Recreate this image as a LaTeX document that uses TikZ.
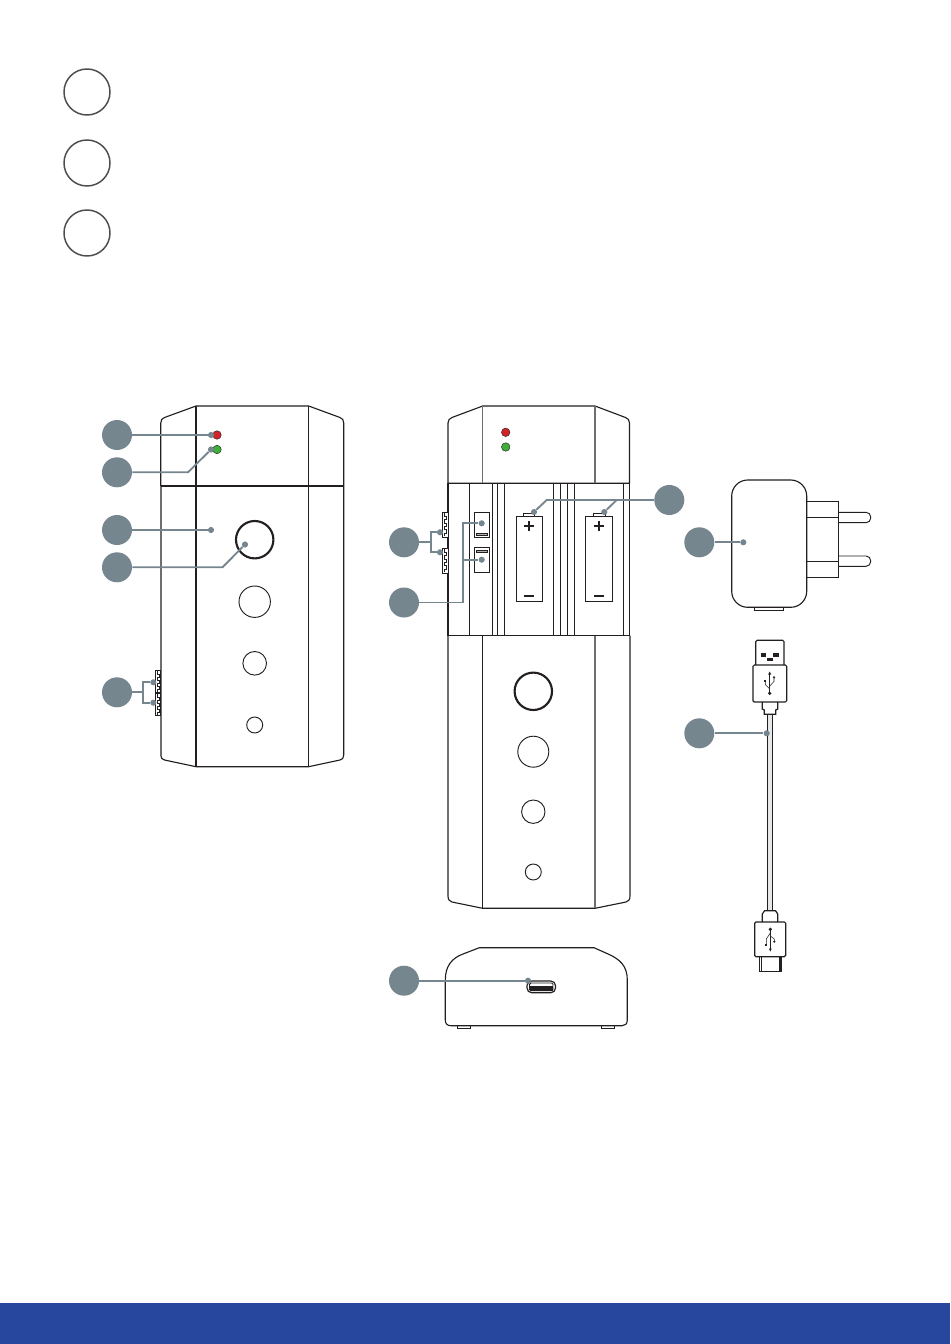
\documentclass[tikz,border=0pt]{standalone}
\usepackage{tikz}
\usetikzlibrary{shapes.misc}

\definecolor{badgegrey}{HTML}{75868F}
\definecolor{bodyline}{HTML}{231F20}
\definecolor{ledred}{HTML}{D2232A}
\definecolor{ledgreen}{HTML}{3FAE3A}
\definecolor{barblue}{HTML}{27479E}
\definecolor{cableface}{HTML}{E6E7E8}

\tikzset{
  badge/.style={circle,fill=badgegrey,inner sep=0pt,minimum size=22.5pt},
  keybadge/.style={circle,draw=bodyline!80,line width=1.1pt,fill=white,inner sep=0pt,minimum size=34.5pt},
  leaddot/.style={circle,fill=badgegrey,inner sep=0pt,minimum size=4.6pt},
  leader/.style={draw=badgegrey,line width=1.4pt},
  led/.style={circle,draw=bodyline,line width=0.3pt,inner sep=0pt,minimum size=6.4pt},
  body/.style={draw=bodyline,line width=0.85pt,line join=round},
  greyedge/.style={draw=bodyline!65,line width=1.15pt},
  thin/.style={draw=bodyline,line width=0.7pt},
  ridge/.pic={
    \draw[thin,line width=0.55pt,fill=white] (0,0) rectangle (5,22.5);
    \draw[thin,line width=0.55pt] (1.8,1) -- (1.8,4) -- (3.4,4) -- (3.4,7) -- (1.8,7) -- (1.8,10) -- (3.4,10) -- (3.4,13) -- (1.8,13) -- (1.8,16) -- (3.4,16) -- (3.4,19) -- (1.8,19) -- (1.8,21.5);
  }
}

\begin{document}
\begin{tikzpicture}[x=0.75pt,y=0.75pt,yscale=-1,xscale=1]
  \useasboundingbox (0,0) rectangle (950,1344);

  %Bottom bar
  \fill[barblue] (0,1303) rectangle (950,1344);

  %Key circles
  \node[keybadge] (keyA) at (87,92) {};
  \node[keybadge] (keyB) at (87,163) {};
  \node[keybadge] (keyC) at (87,233) {};

  %Left unit, outline
  \draw[body] (196,406) -- (308.7,406) -- (340,417.5) .. controls (342.5,418.5) and (343.7,420) .. (343.7,423) -- (343.7,755) .. controls (343.7,758) and (342.5,759.5) .. (340,760) -- (308.7,766.7) -- (196,766.7) -- (164.5,760) .. controls (162,759.5) and (160.8,758) .. (160.8,755) -- (160.8,423) .. controls (160.8,420) and (162,418.5) .. (164.5,417.5) -- cycle;
  \draw[body] (196,406) -- (196,766.7);
  \draw[body] (308.7,406) -- (308.7,766.7);
  \draw[greyedge] (160.8,485.7) -- (160.8,755);
  \draw[body,line width=1.2pt] (160.8,485.7) -- (343.7,485.7);
  %Left unit, buttons
  \draw[bodyline,line width=1.6pt] (254.7,539.7) circle (18.7);
  \draw[thin] (254.7,601.7) circle (15.7);
  \draw[thin] (254.7,663.3) circle (11.8);
  \draw[thin] (254.7,725) circle (8);
  %Left unit, side clips
  \pic[yscale=-1] at (155.8,670) {ridge};
  \pic[yscale=-1] at (155.8,693) {ridge};
  %Left unit, lamps
  \node[led,fill=ledred] (lampRedL) at (217,435) {};
  \node[led,fill=ledgreen] (lampGreenL) at (217,449.5) {};

  %Middle unit, outline
  \draw[body] (482.7,406) -- (595,406) -- (625.5,417.5) .. controls (628,418.5) and (629.5,420) .. (629.5,423) -- (629.5,483.3) -- (448,483.3) -- (448,423) .. controls (448,420) and (449.5,418.5) .. (452,417.5) -- cycle;
  \draw[greyedge] (482.7,406) -- (482.7,483.3);
  \draw[greyedge] (595,406) -- (595,483.3);
  \draw[body] (448,483.3) -- (448,635.7);
  \draw[body] (629.5,483.3) -- (629.5,635.7);
  \draw[thin] (469.3,483.3) -- (469.3,635.7);
  \draw[thin] (492.7,483.3) -- (492.7,635.7);
  \draw[thin] (497.3,483.3) -- (497.3,635.7);
  \draw[thin] (504.3,483.3) -- (504.3,635.7);
  \draw[thin] (553.3,483.3) -- (553.3,635.7);
  \draw[thin] (560.3,483.3) -- (560.3,635.7);
  \draw[thin] (567.3,483.3) -- (567.3,635.7);
  \draw[thin] (574.3,483.3) -- (574.3,635.7);
  \draw[thin] (623.3,483.3) -- (623.3,635.7);
  \draw[body] (448,635.7) -- (630,635.7);
  \draw[body] (448,635.7) -- (448,896) .. controls (448,899.5) and (449.5,901.5) .. (452,902) -- (482.7,908.3) -- (595,908.3) -- (626,902) .. controls (628.5,901.5) and (630,899.5) .. (630,896) -- (630,635.7);
  \draw[body] (482.7,635.7) -- (482.7,908.3);
  \draw[greyedge] (595,635.7) -- (595,908.3);
  %Middle unit, buttons
  \draw[bodyline,line width=1.6pt] (533.3,691.3) circle (18.7);
  \draw[thin] (533.3,751.7) circle (15.5);
  \draw[thin] (533.3,811.7) circle (11.7);
  \draw[thin] (533.3,872) circle (8);
  %Middle unit, side clips
  \pic[xscale=1.15,yscale=-1.11] at (442.2,512) {ridge};
  \pic[xscale=1.15,yscale=-1.11] at (442.2,548) {ridge};
  %Middle unit, lamps
  \node[led,fill=ledred] (lampRedM) at (505.7,432.3) {};
  \node[led,fill=ledgreen] (lampGreenM) at (505.7,447) {};
  %Middle unit, switches
  \draw[thin] (474.3,512.3) rectangle (489.7,537.7);
  \draw[thin] (474.3,547) rectangle (489.7,572.7);
  \draw[bodyline,line width=0.4pt,fill=bodyline!35] (476.3,533) rectangle (487.7,535.2);
  \draw[bodyline,line width=0.4pt,fill=bodyline!35] (476.3,550) rectangle (487.7,552.2);
  %Middle unit, cells
  \draw[thin] (516.3,516.3) rectangle (542.7,601.7);
  \draw[thin,fill=white] (523.3,513) rectangle (534.7,516.3);
  \draw[thin] (585.3,516.3) rectangle (612.7,601.7);
  \draw[thin,fill=white] (593.3,513) rectangle (605,516.3);
  \draw[bodyline,line width=1.5pt] (524,526.3) -- (534,526.3) (529,521.3) -- (529,531.3);
  \draw[bodyline,line width=1.5pt] (524,596) -- (534,596);
  \draw[bodyline,line width=1.5pt] (594,526.3) -- (604,526.3) (599,521.3) -- (599,531.3);
  \draw[bodyline,line width=1.5pt] (594,596) -- (604,596);

  %Base unit
  \draw[body] (479.3,947.7) -- (594,947.7) -- (607,953.5) .. controls (620,959) and (627.3,966) .. (627.3,980) -- (627.3,1020) .. controls (627.3,1024) and (625,1025.7) .. (622,1025.7) -- (451,1025.7) .. controls (447.5,1025.7) and (445.3,1024) .. (445.3,1020) -- (445.3,980) .. controls (445.3,966) and (452,958) .. (463,954) -- cycle;
  \draw[thin] (457.3,1025.7) -- (457.3,1028) -- (470.7,1028) -- (470.7,1025.7);
  \draw[thin] (601.3,1025.7) -- (601.3,1028) -- (614.7,1028) -- (614.7,1025.7);
  \draw[thin,rounded corners=3.5pt,line width=0.9pt] (527,981) rectangle (555.5,992.7);
  \draw[thin,rounded corners=1pt] (529.5,983) rectangle (553,990.7);
  \fill[bodyline] (530,986) rectangle (552.5,990.5);

  %Charger
  \draw[thin] (806.7,501.3) -- (838.7,501.3) -- (838.7,577.7) -- (806.7,577.7);
  \draw[thin] (806.7,517.3) -- (838.7,517.3);
  \draw[thin] (806.7,561) -- (838.7,561);
  \draw[thin,rounded corners=3.5pt] (838.7,512.3) -- (870.7,512.3) -- (870.7,522.7) -- (838.7,522.7);
  \draw[thin,rounded corners=3.5pt] (838.7,556) -- (870.7,556) -- (870.7,566.3) -- (838.7,566.3);
  \draw[thin] (754.3,607.3) rectangle (783.7,610.3);
  \draw[body,rounded corners=12pt,fill=white] (731.7,480) rectangle (806.7,607.3);

  %Cable
  \draw[thin,fill=cableface] (767.3,714.3) rectangle (772.7,910.7);
  %Cable, large plug
  \draw[thin,line width=0.9pt,rounded corners=1pt] (755.7,665) -- (755.7,640.3) -- (784,640.3) -- (784,665);
  \fill[bodyline] (761,653) rectangle (766.3,657);
  \fill[bodyline] (773,653) rectangle (779,657);
  \fill[bodyline] (767,658) rectangle (773,660.7);
  \draw[thin,line width=0.9pt,rounded corners=1pt] (753,665) rectangle (786.7,702);
  \draw[thin,line width=0.9pt] (762.3,702) -- (762.3,709) -- (764.3,710) -- (764.3,714.3) -- (775.7,714.3) -- (775.7,710) -- (777.7,709) -- (777.7,702);
  %Cable, large plug mark
  \draw[bodyline,line width=0.4pt] (769.7,673) -- (769.7,693);
  \draw[bodyline,line width=0.4pt] (769.7,689) -- (765.3,684.5) -- (765.3,681);
  \draw[bodyline,line width=0.4pt] (769.7,686) -- (774,681.5) -- (774,678);
  \fill[bodyline] (769.7,693.3) circle (1.8);
  \fill[bodyline] (769.7,671.5) -- (768.2,674.5) -- (771.2,674.5) -- cycle;
  \fill[bodyline] (764.3,679.7) rectangle (766.3,681.7);
  \fill[bodyline] (774,677.3) circle (1.2);
  %Cable, small plug
  \draw[thin,line width=0.9pt] (762.3,922) -- (762.3,914) -- (764.5,910.7) -- (775.5,910.7) -- (777.7,914) -- (777.7,922);
  \draw[thin,line width=0.9pt,rounded corners=1pt] (754.7,922) rectangle (785.7,956.7);
  \draw[thin,line width=0.9pt] (759.7,956.7) -- (759.7,971.7) -- (781,971.7) -- (781,956.7);
  \draw[thin] (761.7,956.7) -- (761.7,971) (779,956.7) -- (779,971);
  \draw[bodyline,line width=1.4pt] (759.7,971.5) -- (781,971.5);
  %Cable, small plug mark
  \draw[bodyline,line width=0.4pt] (770.3,929.3) -- (770.3,950);
  \draw[bodyline,line width=0.4pt] (770.3,933) -- (766.3,939) -- (766.3,944);
  \draw[bodyline,line width=0.4pt] (770.3,936) -- (774.3,939) -- (774.3,941);
  \fill[bodyline] (770.3,929.3) circle (1.8);
  \fill[bodyline] (770.3,951.5) -- (768.8,948.5) -- (771.8,948.5) -- cycle;
  \fill[bodyline] (765.3,944) rectangle (767.3,946);
  \fill[bodyline] (774.3,941.7) circle (1.2);

  %Callouts, left unit
  \node[badge] (badgeRed) at (117,435) {};
  \node[leaddot] (dotRed) at (211,435) {};
  \draw[leader] (badgeRed) -- (dotRed);

  \node[badge] (badgeGreen) at (117,472.3) {};
  \node[leaddot] (dotGreen) at (211,449.5) {};
  \coordinate (bendGreen) at (188,472.3);
  \draw[leader] (badgeGreen) -- (bendGreen) -- (dotGreen);

  \node[badge] (badgeFace) at (117,530) {};
  \node[leaddot] (dotFace) at (211,530) {};
  \draw[leader] (badgeFace) -- (dotFace);

  \node[badge] (badgeButton) at (117,567.3) {};
  \node[leaddot] (dotButton) at (245,544.5) {};
  \coordinate (bendButton) at (222.5,567.3);
  \draw[leader] (badgeButton) -- (bendButton) -- (dotButton);

  \node[badge] (badgeClipL) at (117,692.3) {};
  \node[leaddot] (dotClipLa) at (153.3,682.3) {};
  \node[leaddot] (dotClipLb) at (153.3,702.7) {};
  \coordinate (forkClipL) at (143.3,692.3);
  \draw[leader] (badgeClipL) -- (forkClipL);
  \draw[leader] (dotClipLa) -| (forkClipL) |- (dotClipLb);

  %Callouts, middle unit
  \node[badge] (badgeClipM) at (404,542.3) {};
  \node[leaddot] (dotClipMa) at (440,532.3) {};
  \node[leaddot] (dotClipMb) at (440,552.3) {};
  \coordinate (forkClipM) at (430.7,542.3);
  \draw[leader] (badgeClipM) -- (forkClipM);
  \draw[leader] (dotClipMa) -| (forkClipM) |- (dotClipMb);

  \node[badge] (badgeSwitch) at (404,602.5) {};
  \node[leaddot] (dotSwitchA) at (481.7,523.3) {};
  \node[leaddot] (dotSwitchB) at (481.7,559.7) {};
  \coordinate (bendSwitch) at (462.7,602.5);
  \coordinate (forkSwitch) at (462.7,559.7);
  \draw[leader] (badgeSwitch) -- (bendSwitch) |- (dotSwitchA);
  \draw[leader] (forkSwitch) -- (dotSwitchB);

  \node[badge] (badgeCell) at (669.3,500) {};
  \node[leaddot] (dotCellA) at (534,512) {};
  \node[leaddot] (dotCellB) at (604.3,512) {};
  \coordinate (bendCell) at (546.7,500);
  \coordinate (forkCell) at (616.7,500);
  \draw[leader] (badgeCell) -- (bendCell) -- (dotCellA);
  \draw[leader] (forkCell) -- (dotCellB);

  \node[badge] (badgePort) at (404,980.7) {};
  \node[leaddot] (dotPort) at (528,980.7) {};
  \draw[leader] (badgePort) -- (dotPort);

  %Callouts, accessories
  \node[badge] (badgeCharger) at (699.3,542.3) {};
  \node[leaddot] (dotCharger) at (743.3,542.3) {};
  \draw[leader] (badgeCharger) -- (dotCharger);

  \node[badge] (badgeCable) at (699.3,733.3) {};
  \node[leaddot] (dotCable) at (766.7,733.3) {};
  \draw[leader] (badgeCable) -- (dotCable);

\end{tikzpicture}
\end{document}
